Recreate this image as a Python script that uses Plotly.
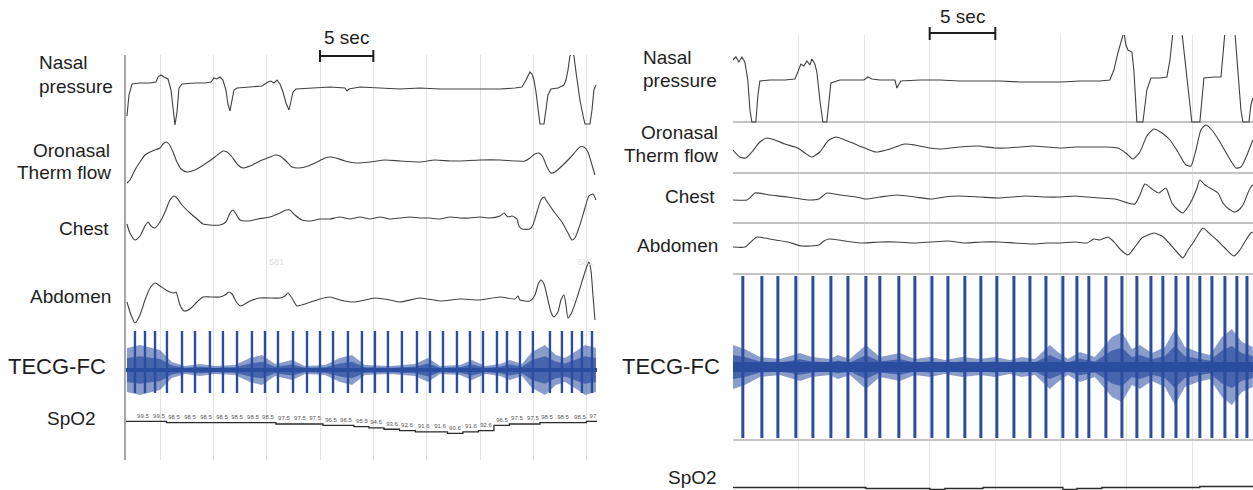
import plotly.graph_objects as go

W, H = 1253, 490

# ====================== DATA ======================
# ---------- LEFT recording (time in s, amplitude in trace units, up = +) ----------
L_nasal_t = [1.90,2.09,2.37,3.12,4.06, 4.62,4.81,5.09,5.37,5.75, 6.03,6.22,6.40,6.59,6.78,
             7.06,8.28,9.22,9.78,10.06, 10.34,10.62,10.90,11.18,11.37, 11.56,11.75,11.93,12.22,13.43,
             14.56,15.12,15.40,15.68,15.97, 16.25,16.53,16.81,17.09,17.28, 17.47,17.75,19.06,20.93,22.34,
             22.53,22.71,23.75,25.62,27.50, 29.37,31.25,33.12,35.00,36.87, 38.28,38.93,39.31,39.68,39.87,
             40.06,40.25,40.43,40.62,41.00, 41.18,41.37,41.65,42.31,42.87, 43.06,43.25,43.43,43.62,43.81,
             44.00,44.18,44.37,44.65,44.84, 45.31,45.50,45.68,45.87]
L_nasal_v = [-30,-9,2,3,3, 4,9,11,9,7, -4,-26,-39,-26,-2, 2,3,3,4,8, 7,9,6,-4,-18,
             -25,-14,-4,-2,-1, 0,4,5,3,6, 2,-6,-17,-24,-15, -6,-3,-2,-1,-2, -5,-3,-1,-2,-3,
             -2,-3,-3,-3,-3, -2,-1,6,14,12, 6,-6,-24,-38,-38, -24,-9,-3,-2,1, 6,16,30,34,30,
             14,1,-14,-29,-38, -38,-24,-4,1]

L_oro_t = [1.90,2.18,2.65,3.12,3.59, 4.06,4.53,5.00,5.28,5.56, 5.84,6.22,6.59,6.97,7.53,
           8.28,9.22,10.15,10.62,10.90, 11.28,11.75,12.31,12.78,13.43, 14.37,15.31,15.78,16.25,16.72,
           17.37,17.93,18.59,19.53,20.47, 20.93,21.50,22.34,23.46,24.68, 26.09,27.50,29.37,30.78,32.18,
           33.12,35.00,36.87,38.28,39.22, 39.68,40.15,40.53,40.90,41.28, 41.65,42.03,42.68,43.43,44.00,
           44.37,44.75,45.12,45.50,45.78]
L_oro_v = [-23,-20,-10,-2,5, 8,10,12,16,18, 16,8,-2,-9,-12, -10,-4,3,7,9, 8,3,-5,-8,-6,
           -1,3,5,4,0, -7,-8,-7,-3,2, 3,2,-1,-3,-2, 0,-1,-2,0,-1, -1,0,0,-1,-1,
           2,6,7,3,-7, -13,-12,-6,2,9, 13,13,8,-5,-15]

L_chest_t = [1.90,2.18,2.65,3.12,3.59, 3.87,4.15,4.53,5.00,5.47, 5.93,6.31,6.59,7.06,7.81,
             8.47,9.03,9.68,10.62,11.18, 11.56,11.84,12.12,12.50,13.25, 14.18,15.31,16.25,16.81,17.18,
             17.65,18.31,19.06,20.00,20.93, 21.87,22.81,23.75,24.68,25.62, 26.56,27.50,28.43,29.37,30.31,
             31.25,32.18,33.12,34.06,35.00, 35.93,36.87,37.25,37.62,38.00, 38.47,38.65,38.93,39.68,39.96,
             40.34,40.71,41.00,41.37,42.03, 42.68,43.25,43.62,43.90,44.37, 44.84,45.21,45.59,45.87]
L_chest_v = [-6,-15,-22,-18,-8, -4,-8,-10,-4,6, 18,22,20,13,5, -1,-6,-7,-7,-4, 5,8,4,-2,-3,
             -1,1,5,8,8, 3,-2,-3,-1,-1, 1,-1,1,-1,1, -1,0,1,0,0, -1,1,0,0,1,
             0,2,5,1,2, -1,-8,-11,-11,-7, 6,18,21,15,5, -4,-15,-22,-20,-7, 10,22,24,18]

L_abd_t = [1.90,2.28,2.65,3.12,3.59, 4.06,4.53,5.00,5.56,5.93, 6.31,6.50,6.87,7.25,7.81,
           8.47,9.03,9.68,10.62,11.09, 11.46,11.75,12.22,12.59,13.43, 14.37,16.25,16.72,17.00,17.37,
           17.84,18.59,20.00,20.93,21.87, 23.28,25.15,26.56,27.50,29.37, 31.25,33.12,35.00,36.87,38.28,
           38.56,38.75,39.68,40.15,40.43, 40.71,41.00,41.37,41.65,41.93, 42.31,42.59,42.87,43.06,43.25,
           43.62,44.18,44.75,45.03,45.21, 45.40,45.59,45.78]
L_abd_v = [-3,-16,-24,-16,-1, 11,16,13,9,7, 6,7,-6,-12,-10, -3,2,2,2,4, 7,5,-4,-7,-2,
           1,1,3,6,1, -7,-5,0,2,-1, -3,1,-1,-3,1, -2,0,-1,2,0, 3,-1,-2,4,14,
           19,15,-1,-13,-18, -13,-1,4,-6,-19, -13,4,24,33,37, 29,4,-21]

L_beats = [2.65,3.59,4.53,5.65,7.06, 8.28,9.68,10.90,12.22,13.62, 14.84,16.06,17.47,18.78,20.00,
           21.22,22.62,23.93,25.15,26.37, 27.68,29.09,30.31,31.53,32.84, 34.06,35.28,36.59,37.53,38.75,
           39.96,41.56,42.68,43.62,44.56, 45.50]
L_noise_t = [1.90,3.12,5.00,6.12,7.34, 8.75,10.15,12.03,13.43,14.56, 15.78,17.37,18.59,20.47,21.87,
             23.00,24.21,26.56,28.90,30.12, 31.25,33.12,34.25,35.47,36.87, 37.81,38.93,39.87,41.09,42.12,
             42.96,43.90,44.84,45.87]
L_noise_a = [22,25,20,8,4, 6,4,5,12,15, 6,10,4,5,12, 15,5,4,6,12, 4,5,10,4,6, 10,6,18,25,15, 12,18,25,22]

L_spo2_t = [3.40,4.90,6.31,7.81,9.31, 10.81,12.22,13.71,15.12,16.62, 18.12,19.53,21.03,22.43,23.93,
            25.25,26.75,28.15,29.74,31.25, 32.65,34.15,35.56,37.06,38.46, 39.96,41.28,42.78,44.37,45.59]
L_spo2_v = [99.5,99.5,98.5,98.5,98.5, 98.5,98.5,98.5,98.5,97.5, 97.5,97.5,96.5,96.5,95.5,
            94.6,93.6,92.6,91.6,91.6, 90.6,91.6,92.6,96.5,97.5, 97.5,98.5,98.5,98.5,99.5]
L_spo2_lbl = ["99.5","99.5","98.5","98.5","98.5","98.5","98.5","98.5","98.5","97.5",
              "97.5","97.5","96.5","96.5","95.5","94.6","93.6","92.6","91.6","91.6",
              "90.6","91.6","92.6","96.5","97.5","97.5","98.5","98.5","98.5","97"]

# ---------- RIGHT recording ----------
R_nasal_t = [0.00,0.23,0.46,0.69,0.91, 1.14,1.30,1.45,1.75,1.91, 2.06,2.82,3.96,4.73,4.95,
             5.18,5.41,5.64,5.87,6.02, 6.25,6.40,6.63,6.86,7.16, 7.32,7.47,8.16,9.30,9.98,
             10.29,10.59,11.20,12.35,12.50, 12.65,12.80,14.25,15.78,17.30, 18.83,20.35,21.88,23.40,25.00,
             26.45,27.97,28.73,29.04,29.34, 29.65,29.80,29.95,30.11,30.41, 30.56,30.79,31.25,31.55,31.86,
             32.55,33.08,33.31,33.54,34.22, 34.53,34.83,34.98,35.59,35.75, 35.90,36.74,37.20,37.35,37.50,
             38.26,38.49,38.72,38.87,39.33, 39.48,39.63]
R_nasal_v = [20,23,18,23,18, 0,-30,-42,-42,-15, -1,0,0,1,8, 16,14,19,15,21, 16,8,-20,-42,-42,
             -20,-3,0,0,0, 3,1,0,0,-8, -4,-1,0,0,-1, -1,-1,-2,-2,-2, -1,-1,0,10,27,
             42,48,35,30,28, 10,-42,-42,-10,2, 2,3,20,48,48, 10,-30,-42,-42,-15,
             2,3,3,25,48, 48,10,-30,-42,-42, -25,-18]

R_oro_t = [0.00,0.53,0.99,1.45,2.06, 2.59,3.20,3.96,4.95,5.49, 6.02,6.63,7.24,7.85,8.54,
           9.30,10.06,10.90,11.97,13.11, 13.87,15.02,15.85,17.30,18.67, 19.97,20.81,21.88,22.87,23.93,
           24.92,26.07,27.21,28.35,29.34, 29.95,30.49,31.02,31.55,32.09, 32.70,33.31,33.92,34.53,34.91,
           35.29,35.67,36.05,36.51,37.12, 37.73,38.34,38.72,39.18,39.63]
R_oro_v = [-2,-9,-10,-4,6, 10,8,4,0,-5, -9,-4,7,11,8, 4,0,-4,-1,4, 3,0,-1,1,2,
           0,0,1,2,1, 0,1,1,1,0, -5,-11,-4,12,19, 15,8,-4,-17,-18, -2,18,23,18,6,
           -8,-20,-19,-7,8]

R_chest_t = [0.00,1.07,1.37,1.68,2.82, 4.19,5.72,6.55,6.86,7.16, 8.16,9.38,10.14,11.20,12.50,
             13.87,15.09,16.16,17.15,18.83, 20.27,21.27,22.33,23.78,24.92, 26.07,26.98,27.97,29.12,29.65,
             30.11,30.64,31.02,31.40,31.94, 32.47,33.00,33.23,33.46,33.92, 34.30,34.68,35.06,35.37,35.59,
             35.98,36.36,36.97,37.35,37.80, 38.26,38.64,38.95,39.25,39.48, 39.63]
R_chest_v = [-3,-3,0,4,2, 0,-3,-2,1,4, 2,0,-2,0,2, 0,-2,0,1,0, -1,0,1,0,0,
             1,0,-1,-2,-4, -6,-7,2,13,8, 4,9,2,-6,-13, -16,-10,-1,9,17, 12,9,4,-6,-12,
             -15,-12,-6,4,10, 12]

R_abd_t = [0.00,0.91,1.37,1.83,2.82, 4.19,5.26,6.55,6.94,7.32, 8.54,9.91,11.20,12.50,13.87,
           15.09,16.39,17.68,18.98,20.27, 21.49,22.87,23.93,24.92,26.07, 26.98,27.52,27.97,28.58,28.89,
           29.12,29.57,30.11,30.64,31.17, 31.63,32.09,32.70,33.31,33.84, 34.30,34.68,35.06,35.44,35.82,
           36.36,36.89,37.50,38.19,38.64, 39.10,39.48,39.63]
R_abd_v = [-4,-4,1,6,4, 1,-3,-2,2,4, 2,0,1,1,0, 1,2,0,1,1, 0,-1,0,0,1,
           0,4,3,6,3, 0,-7,-12,-4,5, 8,10,7,-1,-9, -15,-7,0,8,15, 9,3,-5,-13,-7,
           3,10,11]

R_beats = [0.76,2.21,3.43,4.80,6.10, 7.47,8.77,10.14,11.20,12.65, 13.87,15.17,16.39,17.68,18.90,
           20.12,21.42,22.64,23.86,25.15, 26.22,27.13,28.43,29.65,30.79, 31.86,32.77,33.77,34.68,35.59,
           36.51,37.50,38.41,39.18]
R_noise_t = [0.00,0.91,2.06,3.58,5.11, 6.02,7.39,8.00,8.92,10.14, 11.20,12.73,13.87,15.02,16.16,
             17.45,18.83,19.97,21.11,22.03, 23.02,24.16,24.77,25.53,26.45, 27.59,28.89,29.65,30.41,31.02,
             31.94,32.93,33.69,34.45,35.44, 36.36,37.27,38.03,38.80,39.63]
R_noise_a = [22,18,10,8,14, 10,8,12,8,22, 10,14,8,10,7, 10,8,10,7,10, 8,22,15,8,15,
             10,30,35,18,22, 14,20,38,20,15, 12,30,38,25,20]

R_spo2_t = [0.00,10.14,15.02,16.16,19.06,25.15,26.22,28.12,35.59]
R_spo2_v = [97,96,95,96,97,95,96,97,98]

# ====================== LAYOUT CONSTANTS ======================
for a, b in [(L_nasal_t, L_nasal_v), (L_oro_t, L_oro_v), (L_chest_t, L_chest_v), (L_abd_t, L_abd_v),
             (L_noise_t, L_noise_a), (L_spo2_t, L_spo2_v), (L_spo2_t, L_spo2_lbl),
             (R_nasal_t, R_nasal_v), (R_oro_t, R_oro_v), (R_chest_t, R_chest_v), (R_abd_t, R_abd_v),
             (R_noise_t, R_noise_a), (R_spo2_t, R_spo2_v)]:
    assert len(a) == len(b), (len(a), len(b), a[:3])

L_RANGE = [1.81, 45.97]
R_RANGE = [0.01, 39.64]
TRACE_COLOR = "#404040"
BLUE = "#2a4d9f"
FONT = "Liberation Sans, Arial, sans-serif"

fig = go.Figure()


def add_sig(t, v, base, xa, ya, shape="linear"):
    fig.add_trace(go.Scatter(x=t, y=[base + a for a in v], mode="lines",
                             line=dict(color=TRACE_COLOR, width=1.1, shape=shape,
                                       smoothing=0.6 if shape == "spline" else None),
                             xaxis=xa, yaxis=ya, hoverinfo="skip", showlegend=False))


def add_band(nt, na, center, frac, color, xa, ya):
    xs = nt + nt[::-1]
    ys = [center + a * frac for a in na] + [center - a * frac for a in na[::-1]]
    fig.add_trace(go.Scatter(x=xs, y=ys, fill="toself", fillcolor=color,
                             line=dict(width=0), mode="lines", xaxis=xa, yaxis=ya,
                             hoverinfo="skip", showlegend=False))


def add_ecg(beats, nt, na, center, up, down, xa, ya, spike_w, core_w, rng):
    add_band(nt, na, center, 1.0, "rgba(42,77,159,0.55)", xa, ya)
    add_band(nt, na, center, 0.55, "rgba(42,77,159,0.7)", xa, ya)
    fig.add_trace(go.Scatter(x=[rng[0], rng[1]], y=[center, center], mode="lines",
                             line=dict(color=BLUE, width=core_w), xaxis=xa, yaxis=ya,
                             hoverinfo="skip", showlegend=False))
    sx, sy = [], []
    for b in beats:
        sx += [b, b, None]
        sy += [center + up, center - down, None]
    fig.add_trace(go.Scatter(x=sx, y=sy, mode="lines", line=dict(color=BLUE, width=spike_w),
                             xaxis=xa, yaxis=ya, hoverinfo="skip", showlegend=False))


# ---- left panel (y units: 0 = bottom of picture, 1 unit = 1 px) ----
add_sig(L_nasal_t, L_nasal_v, 404, "x", "y")
add_sig(L_oro_t, L_oro_v, 330, "x", "y", "spline")
add_sig(L_chest_t, L_chest_v, 272, "x", "y", "spline")
add_sig(L_abd_t, L_abd_v, 191, "x", "y", "spline")
add_ecg(L_beats, L_noise_t, L_noise_a, 120, 39, 23, "x", "y", 2.4, 4, L_RANGE)

SPO2_REF, SPO2_Y0, SPO2_K = 90.6, 56.7, 1.35
sp_y = [SPO2_Y0 + (v - SPO2_REF) * SPO2_K for v in L_spo2_v]
fig.add_trace(go.Scatter(x=[L_RANGE[0]] + L_spo2_t + [L_RANGE[1]], y=[sp_y[0]] + sp_y + [sp_y[-1]],
                         mode="lines", line=dict(color="#2a2a2a", width=1.3, shape="hvh"),
                         xaxis="x", yaxis="y", hoverinfo="skip", showlegend=False))
fig.add_trace(go.Scatter(x=L_spo2_t, y=[y + 5 for y in sp_y], mode="text", text=L_spo2_lbl,
                         textfont=dict(size=6, color="#555555", family=FONT), cliponaxis=False,
                         xaxis="x", yaxis="y", hoverinfo="skip", showlegend=False))

# ---- right panel ----
add_sig(R_nasal_t, R_nasal_v, 410, "x2", "y2")
add_sig(R_oro_t, R_oro_v, 342, "x2", "y2", "spline")
add_sig(R_chest_t, R_chest_v, 293, "x2", "y2", "spline")
add_sig(R_abd_t, R_abd_v, 247, "x2", "y2", "spline")
add_ecg(R_beats, R_noise_t, R_noise_a, 123, 91, 71, "x2", "y2", 3, 10, R_RANGE)
fig.add_trace(go.Scatter(x=R_spo2_t + [R_RANGE[1]], y=[2.5 + (v - 97) for v in R_spo2_v] + [2.5 + R_spo2_v[-1] - 97],
                         mode="lines", line=dict(color="#2a2a2a", width=1.3, shape="hv"),
                         xaxis="x2", yaxis="y2", hoverinfo="skip", showlegend=False))

noax = dict(showticklabels=False, ticks="", zeroline=False)
fig.update_layout(
    width=W, height=H, margin=dict(l=0, r=0, t=0, b=0),
    paper_bgcolor="white", plot_bgcolor="rgba(0,0,0,0)", showlegend=False,
    xaxis=dict(domain=[126 / W, 597 / W], range=L_RANGE, anchor="y", showgrid=True,
               gridcolor="#e2e2e2", gridwidth=1, tick0=0, dtick=5, showline=False, **noax),
    yaxis=dict(domain=[30 / H, 435 / H], range=[30, 435], anchor="x", showgrid=False,
               showline=True, linecolor="#a6a6a6", linewidth=2, **noax),
    xaxis2=dict(domain=[733 / W, 1], range=R_RANGE, anchor="y2", showgrid=True,
                gridcolor="#e0e9f1", gridwidth=1, tick0=0, dtick=5, showline=False, **noax),
    yaxis2=dict(domain=[0, 455 / H], range=[0, 455], anchor="x2", showgrid=True,
                tickvals=[368, 317, 267, 216, 50], gridcolor="#c4c4c4", gridwidth=1.5,
                showline=False, **noax),
)


def py(p):
    return 1 - p / H


# 5-second scale bars
bars = [("x", 20, 25, 56, 50, 62, 37), ("x2", 15, 20, 33, 27, 40, 17)]
shapes, anns = [], []
for xr, a, b, yb, yt0, yt1, ytxt in bars:
    shapes.append(dict(type="line", xref=xr, yref="paper", x0=a, x1=b, y0=py(yb), y1=py(yb),
                       line=dict(color="#1e1e1e", width=2)))
    for xx in (a, b):
        shapes.append(dict(type="line", xref=xr, yref="paper", x0=xx, x1=xx, y0=py(yt0), y1=py(yt1),
                           line=dict(color="#1e1e1e", width=2)))
    anns.append(dict(text="5 sec", xref=xr, yref="paper", x=(a + b) / 2, y=py(ytxt), showarrow=False,
                     font=dict(size=19, color="#1e1e1e", family=FONT), xanchor="center", yanchor="middle"))

labels = [
    ("Nasal", 37, 63, "left", 19), ("pressure", 37, 86, "left", 19),
    ("Oronasal", 112, 150, "right", 19), ("Therm flow", 113, 172, "right", 19),
    ("Chest", 111, 228, "right", 19), ("Abdomen", 113, 296, "right", 19),
    ("TECG-FC", 108, 366, "right", 22), ("SpO2", 98, 418, "right", 19),
    ("Nasal", 641, 58, "left", 19), ("pressure", 641, 81, "left", 19),
    ("Oronasal", 720, 133, "right", 19), ("Therm flow", 720, 155, "right", 19),
    ("Chest", 717, 197, "right", 19), ("Abdomen", 720, 245, "right", 19),
    ("TECG-FC", 722, 366, "right", 22),
]
for txt, x, y, anc, sz in labels:
    anns.append(dict(text=txt, xref="paper", yref="paper", x=x / W, y=py(y), showarrow=False,
                     xanchor=anc, yanchor="middle", font=dict(size=sz, color="#1e1e1e", family=FONT)))
# bottom-right SpO2 label sits against the lower edge
anns.append(dict(text="SpO2", xref="paper", yref="paper", x=719 / W, y=0.0, showarrow=False,
                 xanchor="right", yanchor="bottom", font=dict(size=19, color="#1e1e1e", family=FONT)))
for x in (267, 585):
    anns.append(dict(text="581", xref="paper", yref="paper", x=x / W, y=py(262), showarrow=False,
                     font=dict(size=9, color="#dedede", family=FONT)))

fig.update_layout(shapes=shapes, annotations=anns)
fig.write_html("out.html")
